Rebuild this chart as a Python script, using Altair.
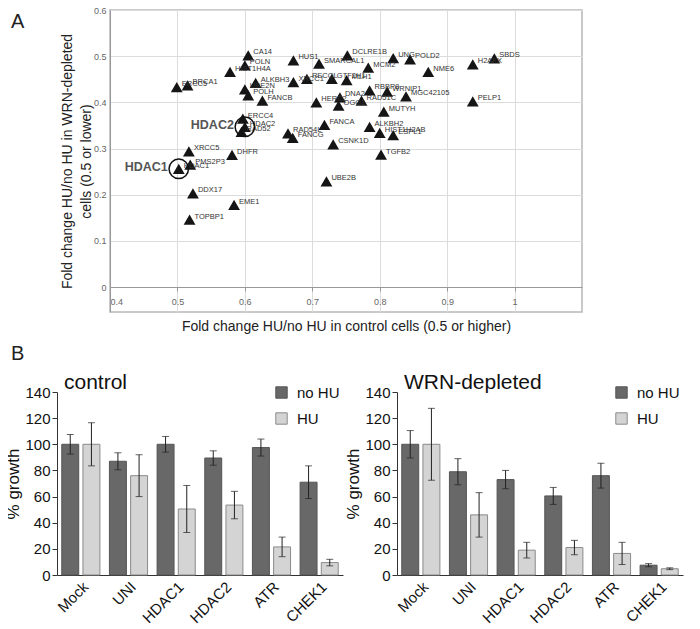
import altair as alt
import pandas as pd

FONT = "Liberation Sans"

# ---------------- Panel A data ----------------
genes = ["ERCC5", "BRCA1", "CA14", "POLN", "HIST1H4A", "ALKBH3", "UBE2N", "POLH", "FANCB",
         "HUS1", "SMARCAL1", "DCLRE1B", "UNG", "POLD2", "MCM2", "NME6", "H2AFX", "SBDS",
         "PELP1", "XRCC1", "RECQL", "GTF2H1", "MLH1", "HERC2", "DNA2", "OGG1", "RAD51C",
         "RBBP8", "WRNIP1", "MGC42105", "MUTYH", "ALKBH2", "HIST1H2AB", "ESPL1", "TGFB2",
         "CSNK1D", "UBE2B", "FANCA", "RAD54L", "FANCG", "ERCC4", "HDAC2", "RAD52", "DHFR",
         "XRCC5", "PMS2P3", "HDAC1", "DDX17", "EME1", "TOPBP1"]
fc_control = [0.499, 0.515, 0.605, 0.600, 0.578, 0.616, 0.600, 0.605, 0.626,
              0.672, 0.710, 0.752, 0.820, 0.845, 0.783, 0.872, 0.938, 0.970,
              0.938, 0.672, 0.692, 0.729, 0.751, 0.706, 0.741, 0.739, 0.773,
              0.785, 0.811, 0.839, 0.806, 0.785, 0.800, 0.820, 0.802,
              0.731, 0.721, 0.718, 0.664, 0.671, 0.597, 0.600, 0.595, 0.581,
              0.517, 0.519, 0.502, 0.523, 0.584, 0.518]
fc_wrn = [0.433, 0.437, 0.502, 0.480, 0.466, 0.442, 0.428, 0.415, 0.404,
          0.491, 0.484, 0.502, 0.496, 0.493, 0.475, 0.466, 0.482, 0.495,
          0.402, 0.444, 0.451, 0.451, 0.448, 0.400, 0.411, 0.393, 0.404,
          0.426, 0.423, 0.413, 0.380, 0.347, 0.334, 0.329, 0.287,
          0.309, 0.229, 0.351, 0.333, 0.323, 0.365, 0.347, 0.336, 0.286,
          0.294, 0.265, 0.256, 0.203, 0.178, 0.146]
highlight = ["HDAC1", "HDAC2"]
x_ticks = [0.4, 0.5, 0.6, 0.7, 0.8, 0.9, 1.0]
y_ticks = [0, 0.1, 0.2, 0.3, 0.4, 0.5, 0.6]

# ---------------- Panel B data ----------------
categories = ["Mock", "UNI", "HDAC1", "HDAC2", "ATR", "CHEK1"]
conditions = ["no HU", "HU"]
ctrl_nohu = [100, 87, 100, 89.5, 97.5, 71]
ctrl_nohu_err = [7.5, 6.5, 6, 5.5, 6.5, 12.5]
ctrl_hu = [100, 76, 50.5, 53.5, 21.5, 9.5]
ctrl_hu_err = [16.5, 16, 18, 10.5, 7.5, 2.5]
wrn_nohu = [100, 79, 73, 60.5, 76, 7.5]
wrn_nohu_err = [10.5, 10, 7, 6.5, 9.5, 1.2]
wrn_hu = [100, 46, 19, 21, 16.5, 4.8]
wrn_hu_err = [27.5, 17, 6, 5.5, 8.5, 0.7]
y_bar_ticks = [0, 20, 40, 60, 80, 100, 120, 140]

# ---------------- Panel A chart ----------------
sc_df = pd.DataFrame({"gene": genes, "ctrl": fc_control, "wrn": fc_wrn})

x_enc = alt.X("ctrl:Q",
              scale=alt.Scale(domain=[0.4, 1.1], nice=False, zero=False),
              axis=alt.Axis(values=x_ticks, format="~g", offset=-25,
                            title="Fold change HU/no HU in control cells (0.5 or higher)",
                            titleFontSize=14, titleFontWeight="normal", titleColor="#222",
                            titlePadding=13, labelFontSize=9, labelColor="#666",
                            labelPadding=6, domainColor="#999", tickColor="#999",
                            tickSize=4, gridColor="#dcdcdc"))
y_enc = alt.Y("wrn:Q",
              scale=alt.Scale(domain=[-0.054, 0.6], nice=False, zero=False),
              axis=alt.Axis(values=y_ticks, format="~g",
                            title=["Fold change HU/no HU in WRN-depleted", "cells (0.5 or lower)"],
                            titleFontSize=14, titleFontWeight="normal", titleColor="#222",
                            titleLineHeight=19, titlePadding=0,
                            labelFontSize=9, labelColor="#666", labelPadding=4,
                            ticks=False, domainColor="#999", gridColor="#dcdcdc"))

sc_base = alt.Chart(sc_df).encode(x=x_enc, y=y_enc)
tri = sc_base.mark_point(shape="triangle-up", filled=True, size=140, color="#151515", opacity=1)
lbl = sc_base.mark_text(align="left", baseline="middle", dx=5, dy=-3, fontSize=7.5,
                        font=FONT, color="#333").encode(text="gene:N")
hl = sc_base.transform_filter(alt.FieldOneOfPredicate(field="gene", oneOf=highlight))
circ = hl.mark_point(shape="circle", filled=False, size=380, color="#111", strokeWidth=1.5, opacity=1)
big = hl.mark_text(align="right", baseline="middle", dx=-11, dy=-2, fontSize=12.5,
                   fontWeight="bold", font=FONT, color="#555").encode(text="gene:N")

scatter = alt.layer(tri, lbl, circ, big).properties(
    width=472, height=302,
    view=alt.ViewBackground(stroke="#b8b8b8", strokeWidth=1.5))

# narrow spacer column holding the panel letter "A"
letter_a = alt.Chart(pd.DataFrame({"t": ["A"]})).mark_text(
    align="left", baseline="middle", fontSize=20, font=FONT, color="#222"
).encode(x=alt.value(-46), y=alt.value(12), text="t:N").properties(width=1, height=10)

row1 = alt.hconcat(letter_a, scatter, spacing=0)


# ---------------- Panel B charts ----------------
def bar_panel(title, nohu, nohu_err, hu, hu_err, letter=None):
    rows = []
    for i, c in enumerate(categories):
        rows.append(dict(cat=c, cond="no HU", val=nohu[i],
                         lo=nohu[i] - nohu_err[i], hi=nohu[i] + nohu_err[i]))
        rows.append(dict(cat=c, cond="HU", val=hu[i],
                         lo=hu[i] - hu_err[i], hi=hu[i] + hu_err[i]))
    df = pd.DataFrame(rows)
    base = alt.Chart(df).encode(
        x=alt.X("cat:N", sort=categories,
                scale=alt.Scale(paddingInner=0.2, paddingOuter=0.1),
                axis=alt.Axis(title=None, labelAngle=-45, labelFontSize=15, labelFont=FONT,
                              labelColor="#111", ticks=False, domainColor="#333",
                              labelPadding=4)),
        xOffset=alt.XOffset("cond:N", sort=conditions, scale=alt.Scale(paddingInner=0.2)))
    y_axis = alt.Axis(values=y_bar_ticks, labelFontSize=15, labelColor="#111",
                      labelFont=FONT, labelOverlap=False, tickSize=5, tickColor="#333",
                      domainColor="#333", grid=False, titleFontSize=17,
                      titleFontWeight="normal", titleColor="#111",
                      titlePadding=2, labelPadding=2)
    bars = base.mark_bar(strokeWidth=1).encode(
        y=alt.Y("val:Q", title="% growth",
                scale=alt.Scale(domain=[0, 140], nice=False), axis=y_axis),
        color=alt.Color("cond:N", sort=conditions,
                        scale=alt.Scale(domain=conditions, range=["#686868", "#d4d4d4"]),
                        legend=alt.Legend(title=None, orient="none", legendX=217, legendY=-7,
                                          symbolType="square", symbolSize=130,
                                          labelFontSize=15, labelFont=FONT, labelColor="#111",
                                          rowPadding=9, labelOffset=8,
                                          symbolStrokeColor="#666", symbolStrokeWidth=1)),
        stroke=alt.Stroke("cond:N", sort=conditions,
                          scale=alt.Scale(domain=conditions, range=["#555555", "#8a8a8a"]),
                          legend=None))
    err = base.mark_rule(color="#222", strokeWidth=1).encode(
        y=alt.Y("lo:Q", title="% growth", axis=y_axis), y2="hi:Q")
    cap_hi = base.mark_tick(color="#222", size=7, thickness=1, orient="horizontal").encode(
        y=alt.Y("hi:Q", title="% growth", axis=y_axis))
    cap_lo = base.mark_tick(color="#222", size=7, thickness=1, orient="horizontal").encode(
        y=alt.Y("lo:Q", title="% growth", axis=y_axis))
    ttl = alt.Chart(pd.DataFrame({"t": [title]})).mark_text(
        align="left", baseline="alphabetic", fontSize=21, font=FONT, color="#111"
    ).encode(x=alt.value(7), y=alt.value(-3), text="t:N")
    layers = [bars, err, cap_hi, cap_lo, ttl]
    if letter:
        lt = alt.Chart(pd.DataFrame({"t": [letter]})).mark_text(
            align="left", baseline="middle", fontSize=20, font=FONT, color="#222"
        ).encode(x=alt.value(-46), y=alt.value(-38), text="t:N")
        layers.append(lt)
    return alt.layer(*layers).properties(width=286, height=183)


bar1 = bar_panel("control", ctrl_nohu, ctrl_nohu_err, ctrl_hu, ctrl_hu_err, letter="B")
bar2 = bar_panel("WRN-depleted", wrn_nohu, wrn_nohu_err, wrn_hu, wrn_hu_err)

row2 = alt.hconcat(bar1, bar2, spacing=0).resolve_scale(color="independent", stroke="independent")

chart = alt.vconcat(row1, row2, spacing=9).properties(
    padding={"left": -4, "top": -3, "right": 0, "bottom": 0}
).configure(font=FONT).configure_view(stroke="transparent").configure_axis(labelOverlap=False)

chart.save("out.html", embed_options={"renderer": "svg", "actions": False})
